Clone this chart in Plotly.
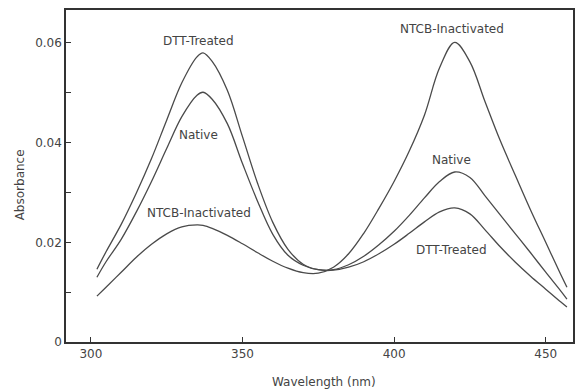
import plotly.graph_objects as go

# Wavelength grid (nm) and absorbance values
wavelength = [302, 305, 310, 315, 320, 325, 330, 335, 337, 340, 345, 350, 355, 360, 365, 370,
              375, 380, 385, 390, 395, 400, 405, 410, 415, 420, 425, 430, 435, 440, 445,
              450, 455, 457]

abs_dtt = [0.0146, 0.0181, 0.0236, 0.0299, 0.0368, 0.0445, 0.0520, 0.0572, 0.0580, 0.0563,
           0.0505, 0.0412, 0.0318, 0.0240, 0.0186, 0.0156, 0.0145, 0.0144, 0.0150, 0.0161,
           0.0177, 0.0196, 0.0218, 0.0241, 0.0261, 0.0269, 0.0257, 0.0225, 0.0191, 0.0160,
           0.0132, 0.0106, 0.0080, 0.0070]

abs_native = [0.0130, 0.0161, 0.0206, 0.0261, 0.0322, 0.0388, 0.0452, 0.0495, 0.0501, 0.0487,
              0.0438, 0.0358, 0.0282, 0.0216, 0.0174, 0.0154, 0.0145, 0.0145, 0.0155, 0.0172,
              0.0195, 0.0222, 0.0254, 0.0289, 0.0322, 0.0341, 0.0330, 0.0293, 0.0255, 0.0217,
              0.0179, 0.0140, 0.0102, 0.0086]

abs_ntcb = [0.0092, 0.0110, 0.0140, 0.0170, 0.0196, 0.0217, 0.0231, 0.0235, 0.0234, 0.0228,
            0.0214, 0.0197, 0.0179, 0.0162, 0.0148, 0.0139, 0.0138, 0.0150, 0.0177, 0.0218,
            0.0268, 0.0322, 0.0383, 0.0455, 0.0550, 0.0601, 0.0562, 0.0482, 0.0404, 0.0334,
            0.0265, 0.0200, 0.0135, 0.0110]

# Curve labels: (text, wavelength, absorbance)
labels = [
    ("DTT-Treated", 335.5, 0.0603),
    ("Native", 335.5, 0.0416),
    ("NTCB-Inactivated", 335.5, 0.0259),
    ("NTCB-Inactivated", 419.0, 0.0627),
    ("Native", 419.0, 0.0366),
    ("DTT-Treated", 419.0, 0.0185),
]

x_ticks = [300, 350, 400, 450]
y_ticks = [0, 0.01, 0.02, 0.03, 0.04, 0.05, 0.06]
y_tick_text = ["0", "", "0.02", "", "0.04", "", "0.06"]

line_color = "#4a4a4a"
text_color = "#444444"
font_family = "DejaVu Sans"

fig = go.Figure()
for ab, name in [(abs_dtt, "DTT-Treated"), (abs_native, "Native"),
                 (abs_ntcb, "NTCB-Inactivated")]:
    fig.add_trace(go.Scatter(x=wavelength, y=ab, mode="lines", name=name,
                             line=dict(color=line_color, width=1.3, shape="spline", smoothing=1.0),
                             showlegend=False))

for text, x, y in labels:
    fig.add_annotation(x=x, y=y, text=text, showarrow=False, xref="x", yref="y",
                       font=dict(family=font_family, size=12, color=text_color))

fig.add_annotation(x=-0.09, y=0.473, xref="paper", yref="paper", text="Absorbance",
                   textangle=-90, showarrow=False, xanchor="center", yanchor="middle",
                   font=dict(family=font_family, size=12, color=text_color))
fig.add_annotation(x=0.509, y=-0.12, xref="paper", yref="paper", text="Wavelength (nm)",
                   showarrow=False, xanchor="center", yanchor="middle",
                   font=dict(family=font_family, size=12, color=text_color))

fig.update_layout(
    width=583, height=391,
    margin=dict(l=66, r=8, t=10, b=49),
    paper_bgcolor="white", plot_bgcolor="white",
    font=dict(family=font_family, size=12, color=text_color),
    xaxis=dict(range=[291.8, 459], tickmode="array", tickvals=x_ticks,
               ticks="inside", ticklen=5, tickcolor="#333", showgrid=False, zeroline=False,
               showline=True, linecolor="#333", linewidth=1.5, mirror=True,
               tickfont=dict(size=12, color=text_color)),
    yaxis=dict(range=[0, 0.0666], tickmode="array", tickvals=y_ticks, ticktext=y_tick_text,
               ticks="inside", ticklen=5, tickcolor="#333", showgrid=False, zeroline=False,
               showline=True, linecolor="#333", linewidth=1.5, mirror=True,
               tickfont=dict(size=12, color=text_color)),
)

fig.write_html("out.html")
